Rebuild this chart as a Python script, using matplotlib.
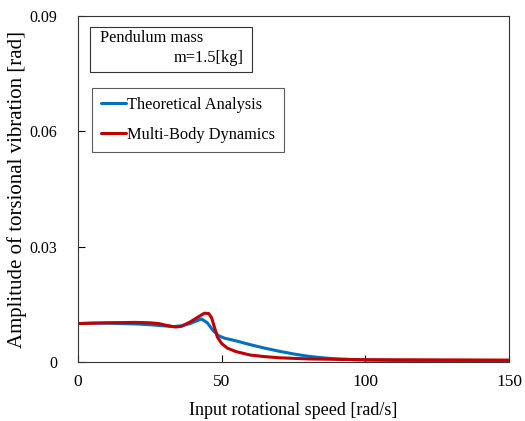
import matplotlib
matplotlib.use("Agg")
import matplotlib.pyplot as plt
from matplotlib.ticker import FixedLocator, FixedFormatter
from matplotlib.patches import Rectangle

plt.rcParams['font.family'] = ['Liberation Serif', 'DejaVu Serif']

theory_x = [0, 5, 10, 15, 20, 25, 30, 33, 36, 39, 41, 43, 45, 47, 49, 51, 55, 60, 65, 70, 75, 80, 85, 90, 100, 110, 120, 150]
theory_y = [0.0100, 0.0101, 0.0101, 0.0100, 0.0099, 0.0097, 0.0094, 0.0092, 0.0094, 0.0100, 0.0106, 0.0112, 0.0102, 0.0082, 0.0068, 0.0062, 0.0055, 0.0045, 0.0036, 0.0028, 0.0021, 0.0015, 0.0011, 0.0008, 0.0005, 0.0004, 0.0004, 0.0003]

mbd_x = [0, 10, 20, 25, 28, 31, 34, 36, 39, 42, 44, 45.5, 46.5, 47.5, 48.5, 50, 52, 55, 60, 65, 70, 80, 90, 100, 150]
mbd_y = [0.0100, 0.0102, 0.0103, 0.0102, 0.0100, 0.0095, 0.0091, 0.0093, 0.0104, 0.0118, 0.0127, 0.0126, 0.0115, 0.0090, 0.0065, 0.0048, 0.0036, 0.0027, 0.0018, 0.0014, 0.0011, 0.0008, 0.0007, 0.0006, 0.0005]

x_ticks = [0, 50, 100, 150]
x_labels = ['0', '50', '100', '150']
y_ticks = [0, 0.03, 0.06, 0.09]
y_labels = ['0', '0.03', '0.06', '0.09']

W, H = 525, 421
AX_L, AX_R, AX_T, AX_B = 78, 509, 16, 362

fig = plt.figure(figsize=(W/100, H/100), dpi=100)
ax = fig.add_axes([AX_L/W, (H-AX_B)/H, (AX_R-AX_L)/W, (AX_B-AX_T)/H])

def fx(px):
    return (px - AX_L) / (AX_R - AX_L)

def fy(py):
    return (AX_B - py) / (AX_B - AX_T)

ax.plot(theory_x, theory_y, color='#0070C0', lw=2.2, label='Theoretical Analysis', solid_capstyle='round')
ax.plot(mbd_x, mbd_y, color='#C00000', lw=2.2, label='Multi-Body Dynamics', solid_capstyle='round')

ax.set_xlim(0, 150)
ax.set_ylim(0, 0.09)
ax.xaxis.set_major_locator(FixedLocator(x_ticks))
ax.xaxis.set_major_formatter(FixedFormatter(x_labels))
ax.yaxis.set_major_locator(FixedLocator(y_ticks))
ax.yaxis.set_major_formatter(FixedFormatter(y_labels))
ax.tick_params(direction='in', length=5, width=0.8, colors='#000000')
ax.tick_params(axis='x', labelsize=12.5, pad=9)
ax.tick_params(axis='y', labelsize=11.5, pad=15)
for s in ax.spines.values():
    s.set_linewidth(0.8)
    s.set_color('#333333')

ax.set_xlabel('Input rotational speed [rad/s]', fontsize=13, labelpad=8)
ax.set_ylabel('Amplitude of torsional vibration [rad]', fontsize=15, labelpad=2)

# annotation box
ax.add_patch(Rectangle((fx(90), fy(72)), fx(252) - fx(90), fy(27) - fy(72), transform=ax.transAxes,
                       fill=True, fc='white', ec='#333333', lw=0.8, zorder=5))
ax.text(fx(100), fy(42), 'Pendulum mass', transform=ax.transAxes, fontsize=11.8,
        ha='left', va='baseline', zorder=6)
ax.text(fx(244), fy(62), 'm=1.5[kg]', transform=ax.transAxes, fontsize=11.8,
        ha='right', va='baseline', zorder=6)

leg = ax.legend(loc='upper left', bbox_to_anchor=(fx(92), fy(88)), fontsize=11.8, frameon=True,
                fancybox=False, edgecolor='#333333', handlelength=1.55, handletextpad=0.05,
                borderpad=0.55, labelspacing=0.85, borderaxespad=0)
leg.get_frame().set_linewidth(0.8)
leg.set_zorder(6)

fig.savefig('out.png', dpi=100)
